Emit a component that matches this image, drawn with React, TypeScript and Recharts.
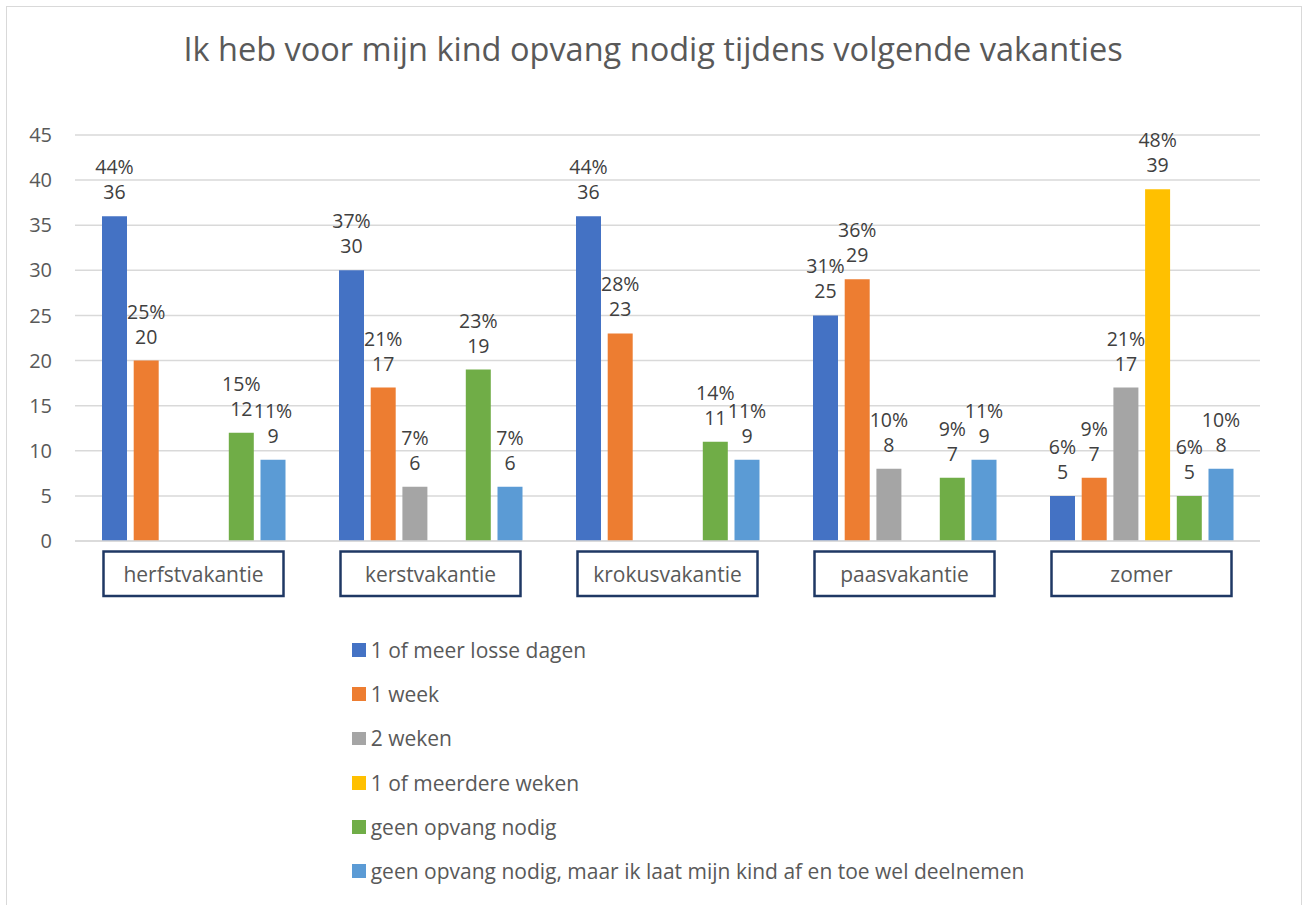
import React from "react";
import { BarChart, Bar, XAxis, YAxis, CartesianGrid, Legend, LabelList } from "recharts";

// vacation periods
const categories = ["herfstvakantie", "kerstvakantie", "krokusvakantie", "paasvakantie", "zomer"];

const seriesNames = [
  "1 of meer losse dagen",
  "1 week",
  "2 weken",
  "1 of meerdere weken",
  "geen opvang nodig",
  "geen opvang nodig, maar ik laat mijn kind af en toe wel deelnemen",
];
const colors = ["#4472C4", "#ED7D31", "#A5A5A5", "#FFC000", "#70AD47", "#5B9BD5"];

// counts per series (null = no bar)
const losseDagen = [36, 30, 36, 25, 5];
const eenWeek = [20, 17, 23, 29, 7];
const tweeWeken = [null, 6, null, 8, 17];
const meerdereWeken = [null, null, null, null, 39];
const geenOpvang = [12, 19, 11, 7, 5];
const geenOpvangDeel = [9, 6, 9, 9, 8];

// percentages as shown in the labels
const pctLosseDagen = [44, 37, 44, 31, 6];
const pctEenWeek = [25, 21, 28, 36, 9];
const pctTweeWeken = [null, 7, null, 10, 21];
const pctMeerdereWeken = [null, null, null, null, 48];
const pctGeenOpvang = [15, 23, 14, 9, 6];
const pctGeenOpvangDeel = [11, 7, 11, 11, 10];

const yTicks = [0, 5, 10, 15, 20, 25, 30, 35, 40, 45];

const values = [losseDagen, eenWeek, tweeWeken, meerdereWeken, geenOpvang, geenOpvangDeel];
const pcts = [pctLosseDagen, pctEenWeek, pctTweeWeken, pctMeerdereWeken, pctGeenOpvang, pctGeenOpvangDeel];

const data = categories.map((name, i) => {
  const row: any = { name };
  values.forEach((v, s) => {
    row["s" + s] = v[i];
    row["l" + s] = v[i] == null ? null : pcts[s][i] + "%|" + v[i];
  });
  return row;
});

const FONT = "'Open Sans', 'Liberation Sans', sans-serif";

const BarLabel = (props: any) => {
  const { x, y, width, value } = props;
  if (value == null) return null;
  const [pct, val] = String(value).split("|");
  const cx = x + width / 2;
  return (
    <g>
      <text x={cx} y={y - 42} textAnchor="middle" fontSize={19.5} fill="#404040" fontFamily={FONT}>
        {pct}
      </text>
      <text x={cx} y={y - 17} textAnchor="middle" fontSize={19.5} fill="#404040" fontFamily={FONT}>
        {val}
      </text>
    </g>
  );
};

const CategoryTick = (props: any) => {
  const { x, y, payload } = props;
  return (
    <g>
      <rect x={x - 90} y={y + 10.5} width={180} height={44.5} fill="#fff" stroke="#1F3864" strokeWidth={2.5} />
      <text x={x} y={y + 40.5} textAnchor="middle" fontSize={21} fill="#595959" fontFamily={FONT}>
        {payload.value}
      </text>
    </g>
  );
};

const renderLegend = () => (
  <div style={{ height: 270, paddingTop: 17, boxSizing: "border-box", fontFamily: FONT, fontSize: 21, color: "#595959" }}>
    {seriesNames.map((n, i) => (
      <div key={n} style={{ height: 44.2, display: "flex", alignItems: "center", whiteSpace: "nowrap" }}>
        <span style={{ display: "inline-block", width: 13.7, height: 13.7, background: colors[i], marginRight: 5 }} />
        <span>{n}</span>
      </div>
    ))}
  </div>
);

const App: React.FC = () => {
  return (
    <div style={{ position: "absolute", left: 0, top: 0, width: 1306, height: 905, overflow: "hidden", background: "#fff" }}>
      <div
        style={{
          position: "absolute",
          left: 6,
          top: 6,
          width: 1296,
          height: 950,
          border: "1.5px solid #d9d9d9",
          boxSizing: "border-box",
        }}
      />
      <div
        style={{
          position: "absolute",
          left: 0,
          top: 26,
          width: 1306,
          textAlign: "center",
          fontFamily: FONT,
          fontSize: 32.5,
          color: "#595959",
          zIndex: 2,
        }}
      >
        Ik heb voor mijn kind opvang nodig tijdens volgende vakanties
      </div>
      <div style={{ position: "absolute", left: 0, top: 0 }}>
        <BarChart
          width={1306}
          height={905}
          data={data}
          barSize={25}
          barGap={6.7}
          margin={{ top: 135, right: 46, left: 15, bottom: 24 }}
        >
          <CartesianGrid vertical={false} stroke="#d9d9d9" strokeWidth={1.5} />
          <XAxis
            dataKey="name"
            height={70}
            tickLine={false}
            tickSize={0}
            tickMargin={0}
            axisLine={{ stroke: "#d9d9d9", strokeWidth: 1.5 }}
            tick={<CategoryTick />}
            interval={0}
          />
          <YAxis
            width={60}
            domain={[0, 45]}
            ticks={yTicks}
            axisLine={false}
            tickLine={false}
            tickSize={0}
            tickMargin={23}
            tick={{ fill: "#595959", fontSize: 20, fontFamily: FONT }}
          />
          <Legend
            verticalAlign="bottom"
            align="left"
            content={renderLegend}
            wrapperStyle={{ left: 352, width: 760, height: 270 }}
          />
          {seriesNames.map((n, s) => (
            <Bar key={n} dataKey={"s" + s} name={n} fill={colors[s]} isAnimationActive={false}>
              <LabelList dataKey={"l" + s} content={<BarLabel />} />
            </Bar>
          ))}
        </BarChart>
      </div>
    </div>
  );
};

export default App;
